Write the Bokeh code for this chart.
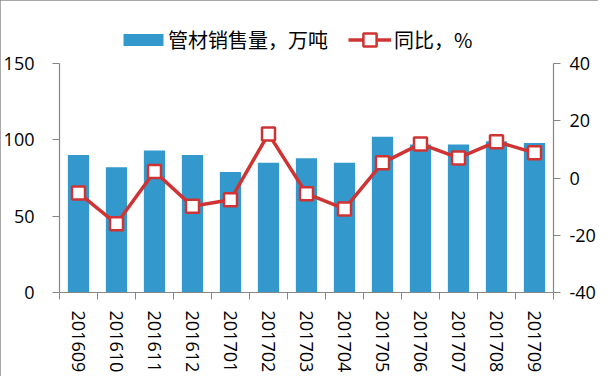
import math
from bokeh.plotting import figure
from bokeh.models import (Range1d, LinearAxis, FixedTicker, Legend, LegendItem,
                          ColumnDataSource)
from bokeh.embed import file_html
from bokeh.resources import INLINE

months = ["201609", "201610", "201611", "201612", "201701", "201702", "201703",
          "201704", "201705", "201706", "201707", "201708", "201709"]
volume = [90, 82, 93, 90, 79, 85, 88, 85, 102, 97, 97, 99, 98]
yoy = [-5.2, -16.0, 2.3, -9.9, -7.6, 15.4, -5.5, -10.8, 5.3, 11.9, 7.0, 12.7, 8.8]
left_ticks = [0, 50, 100, 150]
right_ticks = [-40, -20, 0, 20, 40]
right_labels = ["-40", "-20", "0", "20", "40"]

BLUE = "#3399CC"
RED = "#CF3434"
AXIS = "#868686"
TICK_FONT = "Open Sans"
CJK_FONT = "Noto Sans CJK SC"

# plot area: 229 px tall for the axis spans; extra px on top hold the legend
AXIS_PX = 229.0
TOP_PX = 45.0
left_top = 150 + TOP_PX * 150 / AXIS_PX
right_top = 40 + TOP_PX * 80 / AXIS_PX

xs = [i + 0.5 for i in range(len(months))]
src = ColumnDataSource(dict(x=xs, vol=volume, yoy=yoy, m=months))

p = figure(width=598, height=376, output_backend="svg", toolbar_location=None,
           x_range=Range1d(0, len(months)), y_range=Range1d(0, left_top),
           min_border_left=58, min_border_right=45, min_border_top=18,
           min_border_bottom=84, x_axis_location=None, y_axis_location=None)
p.extra_y_ranges = {"r": Range1d(-40, right_top)}
p.xgrid.visible = False
p.ygrid.visible = False
p.outline_line_color = None
p.background_fill_color = "white"
p.border_fill_color = "white"
p.styles = {"outline": "2px solid #8C8C8C", "outline-offset": "-2px"}

bars = p.vbar(x="x", top="vol", width=0.56, bottom=0, source=src,
              fill_color=BLUE, line_color=None)
ln = p.line(x="x", y="yoy", source=src, y_range_name="r",
            line_color=RED, line_width=3.5)
sc = p.scatter(x="x", y="yoy", source=src, y_range_name="r", marker="square",
               size=13, fill_color="white", line_color=RED, line_width=2.5)

def style_axis(ax):
    ax.axis_line_color = AXIS
    ax.axis_line_width = 1.2
    ax.major_tick_line_color = AXIS
    ax.major_tick_in = 0
    ax.major_tick_out = 7
    ax.minor_tick_line_color = None
    ax.major_label_text_font = TICK_FONT
    ax.major_label_text_font_size = "18px"
    ax.major_label_text_color = "#000000"

# left axis
la = LinearAxis(ticker=FixedTicker(ticks=left_ticks), bounds=(0, 150))
style_axis(la)
la.major_label_standoff = 18
p.add_layout(la, "left")

# right axis
ra = LinearAxis(y_range_name="r", ticker=FixedTicker(ticks=right_ticks), bounds=(-40, 40))
style_axis(ra)
ra.major_label_standoff = 9
ra.major_label_overrides = {t: s for t, s in zip(right_ticks, right_labels)}
p.add_layout(ra, "right")

# bottom axis: labels at category centres, tick marks at category boundaries
ba = LinearAxis(ticker=FixedTicker(ticks=xs, minor_ticks=list(range(len(months) + 1))))
style_axis(ba)
ba.major_tick_out = 0
ba.minor_tick_line_color = AXIS
ba.minor_tick_in = 0
ba.minor_tick_out = 7
ba.major_label_overrides = {x: m for x, m in zip(xs, months)}
ba.major_label_orientation = -math.pi / 2
ba.major_label_standoff = 11
p.add_layout(ba, "below")

# legends
leg1 = Legend(items=[LegendItem(label="管材销售量，万吨", renderers=[bars])],
              location=(59, 238), orientation="horizontal",
              glyph_width=50, glyph_height=15, label_standoff=0,
              padding=0, margin=0, border_line_color=None,
              background_fill_alpha=0, label_text_font=CJK_FONT,
              label_text_font_size="20px", label_text_color="#000000")
leg2 = Legend(items=[LegendItem(label="同比，%", renderers=[ln, sc])],
              location=(289, 236), orientation="horizontal",
              glyph_width=43, glyph_height=33, label_standoff=3,
              padding=0, margin=0, border_line_color=None,
              background_fill_alpha=0, label_text_font=CJK_FONT,
              label_text_font_size="20px", label_text_color="#000000")
p.add_layout(leg1, "center")
p.add_layout(leg2, "center")

open("out.html", "w").write(file_html(p, INLINE))
